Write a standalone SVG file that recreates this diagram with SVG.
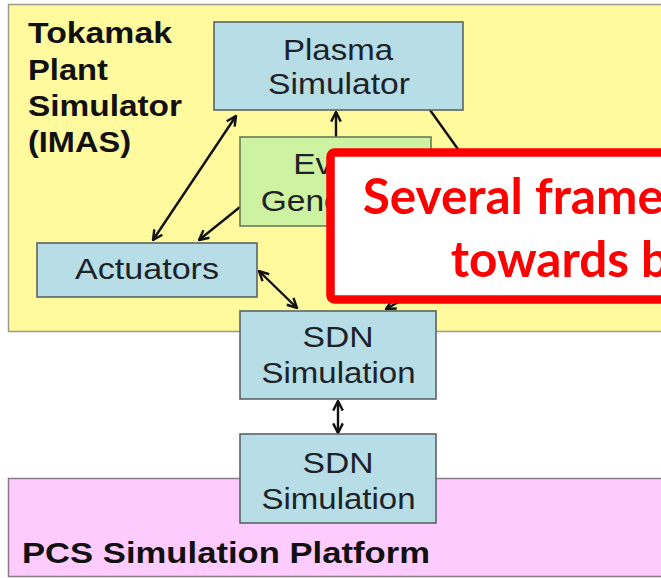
<svg xmlns="http://www.w3.org/2000/svg" width="661" height="578" viewBox="0 0 661 578">
<style>
.panel-y{fill:#FFFA9E;stroke:#9a9a8a;stroke-width:1.5}
.panel-p{fill:#FDCBFD;stroke:#8a7a8a;stroke-width:1.5}
.box{fill:#B7DDE6;stroke:#5a6464;stroke-width:1.6}
.gbox{fill:#CDF2A2;stroke:#6a7a5a;stroke-width:1.6}
.t{font-family:"Liberation Sans",Arial,sans-serif;font-size:30px;fill:#1c2228;text-anchor:middle}
.ts{font-family:"Liberation Sans",Arial,sans-serif;font-size:30px;fill:#1c2228}
.b{font-family:"Liberation Sans",Arial,sans-serif;font-size:30px;font-weight:bold;fill:#111111}
.c{stroke:#111111;stroke-width:2.4;fill:none}
.r{font-family:Lato,"Open Sans",sans-serif;font-weight:bold;font-size:49.5px;fill:#FF0000}
</style>
<defs>
<marker id="ah" viewBox="0 0 10 10" refX="9" refY="5" markerWidth="12" markerHeight="12" markerUnits="userSpaceOnUse" orient="auto-start-reverse">
<path d="M1,1 L9,5 L1,9" fill="none" stroke="#111111" stroke-width="2"/>
</marker>
</defs>
<rect width="661" height="578" fill="#ffffff"/>
<g id="tokamak-panel">
<rect class="panel-y" x="8.5" y="4.5" width="670" height="327"/>
<text class="b" x="28" y="43.3" textLength="144" lengthAdjust="spacingAndGlyphs">Tokamak</text>
<text class="b" x="28" y="80" textLength="80" lengthAdjust="spacingAndGlyphs">Plant</text>
<text class="b" x="28" y="116" textLength="154" lengthAdjust="spacingAndGlyphs">Simulator</text>
<text class="b" x="28" y="151.7" textLength="103" lengthAdjust="spacingAndGlyphs">(IMAS)</text>
</g>
<g id="pcs-panel">
<rect class="panel-p" x="8.5" y="478.5" width="670" height="98"/>
<text class="b" x="22" y="562.7" textLength="408" lengthAdjust="spacingAndGlyphs">PCS Simulation Platform</text>
</g>
<g id="connectors">
<line class="c" x1="236" y1="116" x2="153" y2="240" marker-start="url(#ah)" marker-end="url(#ah)"/>
<line class="c" x1="336" y1="137" x2="336" y2="112" marker-end="url(#ah)"/>
<line class="c" x1="240" y1="207" x2="199" y2="240" marker-end="url(#ah)"/>
<line class="c" x1="259" y1="271" x2="297" y2="308" marker-start="url(#ah)" marker-end="url(#ah)"/>
<line class="c" x1="430" y1="110" x2="480" y2="180"/>
<line class="c" x1="420" y1="290" x2="386" y2="309" marker-end="url(#ah)"/>
<line class="c" x1="338" y1="401" x2="338" y2="433" marker-start="url(#ah)" marker-end="url(#ah)"/>
</g>
<g id="plasma-simulator">
<rect class="box" x="214" y="22" width="249" height="88"/>
<text class="t" x="338" y="60" textLength="110" lengthAdjust="spacingAndGlyphs">Plasma</text>
<text class="t" x="339" y="94" textLength="142" lengthAdjust="spacingAndGlyphs">Simulator</text>
</g>
<g id="event-generator">
<rect class="gbox" x="240" y="137" width="191" height="89"/>
<text class="ts" x="293.3" y="174" textLength="39" lengthAdjust="spacingAndGlyphs">Ev</text>
<text class="ts" x="260.7" y="211" textLength="82" lengthAdjust="spacingAndGlyphs">Gene</text>
</g>
<g id="actuators">
<rect class="box" x="37" y="243" width="220" height="54"/>
<text class="t" x="147" y="279" textLength="144" lengthAdjust="spacingAndGlyphs">Actuators</text>
</g>
<g id="sdn-simulation-1">
<rect class="box" x="240" y="311" width="196" height="88"/>
<text class="t" x="338" y="346.7" textLength="71" lengthAdjust="spacingAndGlyphs">SDN</text>
<text class="t" x="338.5" y="383.3" textLength="154" lengthAdjust="spacingAndGlyphs">Simulation</text>
</g>
<g id="sdn-simulation-2">
<rect class="box" x="240" y="434" width="196" height="89"/>
<text class="t" x="338" y="473.3" textLength="71" lengthAdjust="spacingAndGlyphs">SDN</text>
<text class="t" x="338.5" y="509.3" textLength="154" lengthAdjust="spacingAndGlyphs">Simulation</text>
</g>
<g id="overlay-callout">
<rect x="330.5" y="152.5" width="400" height="147" rx="4" fill="#ffffff" stroke="#FF0000" stroke-width="8.5"/>
<text class="r" x="362.7" y="214">Several frame</text>
<text class="r" x="450.7" y="277.3">towards b</text>
</g>
</svg>
